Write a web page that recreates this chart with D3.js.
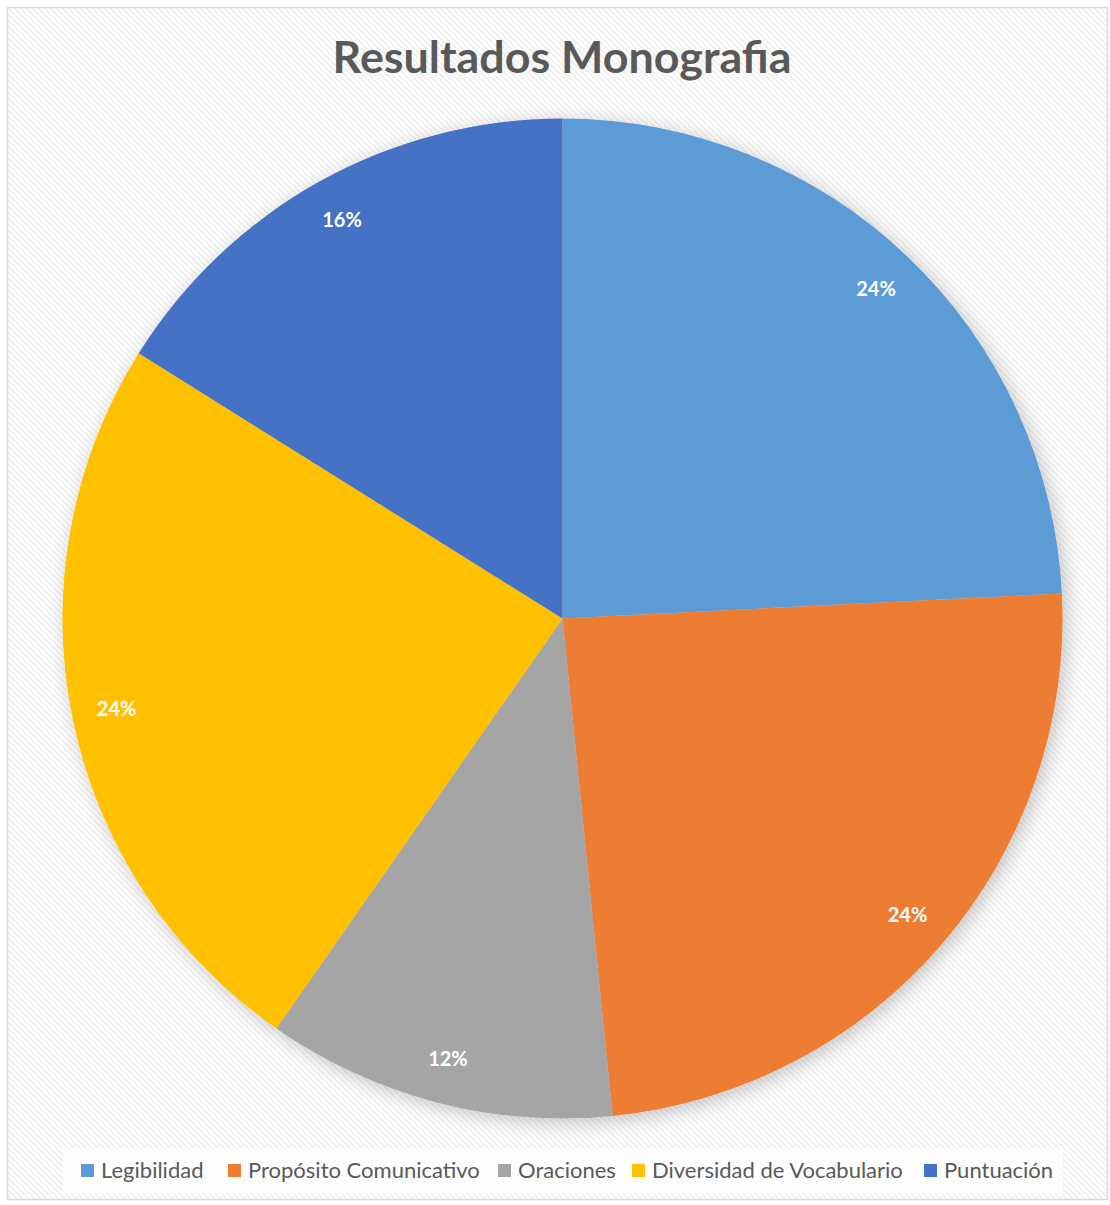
<!DOCTYPE html>
<html>
<head>
<meta charset="utf-8">
<script src="https://cdn.jsdelivr.net/npm/d3@7"></script>
<style>
  html, body { margin: 0; padding: 0; background: #ffffff; }
  svg { display: block; }
</style>
</head>
<body>
<svg id="chart" width="1110" height="1205"></svg>
<script>
// ---- data ----
const title = "Resultados Monografia";
const categories = ["Legibilidad", "Propósito Comunicativo", "Oraciones", "Diversidad de Vocabulario", "Puntuación"];
const values = [24.2, 24.2, 11.3, 24.2, 16.1];
const dataLabels = ["24%", "24%", "12%", "24%", "16%"];
const colors = ["#5B9BD5", "#ED7D31", "#A5A5A5", "#FFC000", "#4472C4"];

const W = 1110, H = 1205;
const svg = d3.select("#chart");
const defs = svg.append("defs");

// striped background pattern
const pat = defs.append("pattern")
  .attr("id", "stripes").attr("patternUnits", "userSpaceOnUse")
  .attr("width", 6).attr("height", 6);
pat.append("rect").attr("width", 6).attr("height", 6).attr("fill", "#ffffff");
pat.append("path").attr("d", "M-1,-1 L7,7 M-1,5 L1,7 M5,-1 L7,1")
  .attr("stroke", "#f1f1f1").attr("stroke-width", 2.2);

const sh = defs.append("filter").attr("id", "shadow")
  .attr("x", "-10%").attr("y", "-10%").attr("width", "125%").attr("height", "125%");
sh.append("feDropShadow").attr("dx", 4).attr("dy", 4).attr("stdDeviation", 9)
  .attr("flood-color", "#000").attr("flood-opacity", 0.22);

// chart area
svg.append("rect").attr("x", 7.5).attr("y", 7.5).attr("width", 1100).attr("height", 1192)
  .attr("fill", "url(#stripes)").attr("stroke", "#d9d9d9").attr("stroke-width", 1.5);

// title
const titleText = svg.append("text")
  .attr("x", 562).attr("y", 73)
  .attr("text-anchor", "middle")
  .attr("font-family", "Lato, 'Open Sans', sans-serif")
  .attr("font-weight", "bold")
  .attr("font-size", 40)
  .attr("fill", "#595959")
  .text(title);
const tw = titleText.node().getComputedTextLength();
titleText.attr("font-size", 40 * 459 / tw);

// pie
const cx = 562.5, cy = 618.5, R = 500;
const pie = d3.pie().sort(null).value(d => d.v);
const arcs = pie(values.map((v, i) => ({ v, i })));
const arc = d3.arc().innerRadius(0).outerRadius(R);
const labelArc = d3.arc().innerRadius(455).outerRadius(455);

const g = svg.append("g").attr("transform", `translate(${cx},${cy})`);
g.append("g").attr("filter", "url(#shadow)")
  .selectAll("path").data(arcs).join("path")
  .attr("d", arc)
  .attr("fill", d => colors[d.data.i]);

g.selectAll("text.lbl").data(arcs).join("text")
  .attr("class", "lbl")
  .attr("transform", d => `translate(${labelArc.centroid(d)})`)
  .attr("text-anchor", "middle")
  .attr("dy", "0.35em")
  .attr("font-family", "Lato, 'Open Sans', sans-serif")
  .attr("font-weight", "bold")
  .attr("font-size", 20)
  .attr("fill", "#ffffff")
  .text(d => dataLabels[d.data.i]);

// legend
const legend = svg.append("g");
legend.append("rect").attr("x", 63).attr("y", 1148).attr("width", 1000).attr("height", 45)
  .attr("fill", "#ffffff").attr("fill-opacity", 0.75);
const legendX = [81, 228, 498, 632, 924];
const items = legend.selectAll("g.item").data(categories).join("g")
  .attr("class", "item")
  .attr("transform", (d, i) => `translate(${legendX[i]},1164)`);
items.append("rect").attr("width", 13).attr("height", 13)
  .attr("fill", (d, i) => colors[i]);
items.append("text").attr("x", 20).attr("y", 6.5).attr("dy", "0.35em")
  .attr("font-family", "Lato, 'Open Sans', sans-serif")
  .attr("font-size", 22)
  .attr("fill", "#595959")
  .text(d => d);
</script>
</body>
</html>
